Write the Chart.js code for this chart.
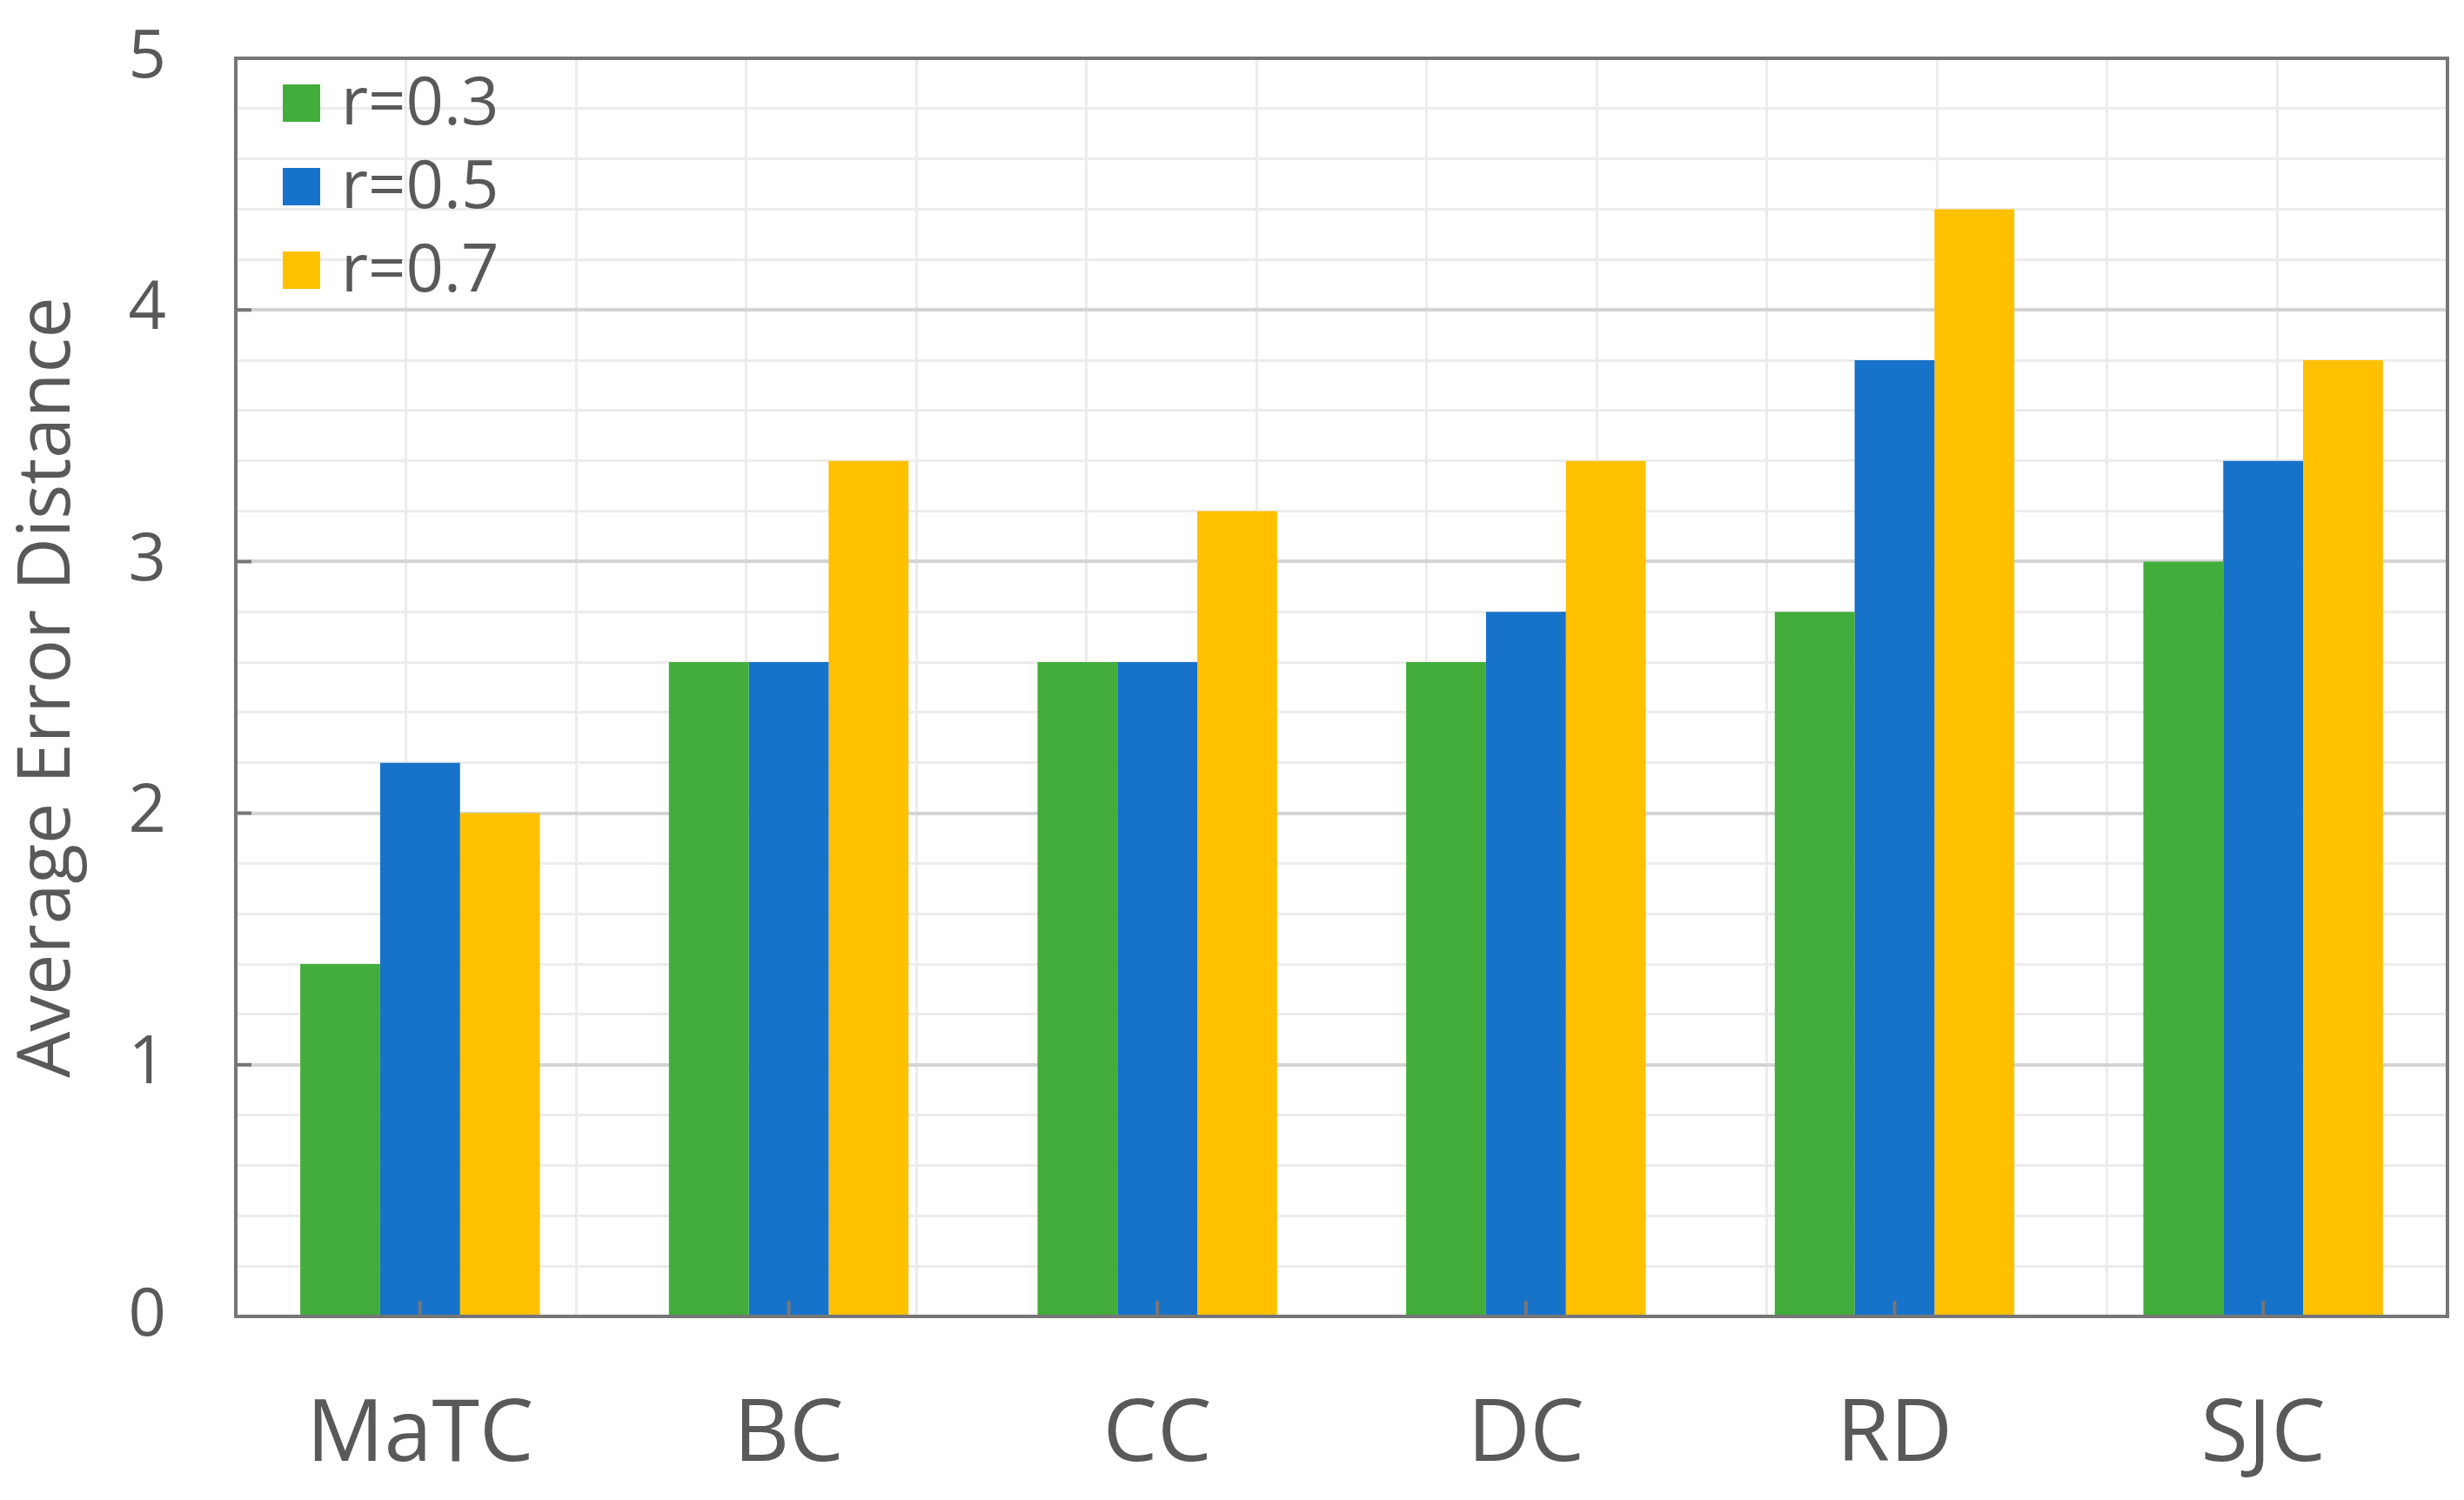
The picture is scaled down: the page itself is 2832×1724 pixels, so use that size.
<!DOCTYPE html>
<html>
<head>
<meta charset="utf-8">
<script src="https://cdn.jsdelivr.net/npm/chart.js@4.4.0/dist/chart.umd.min.js"></script>
<style>
  html, body { margin: 0; padding: 0; background: #ffffff; }
  #wrap { width: 2832px; height: 1724px; }
</style>
</head>
<body>
<div id="wrap"><canvas id="bar-chart" width="2832" height="1724"></canvas></div>
<script>
// data
const categories = ["MaTC", "BC", "CC", "DC", "RD", "SJC"];
const seriesNames = ["r=0.3", "r=0.5", "r=0.7"];
const r03 = [1.4, 2.6, 2.6, 2.6, 2.8, 3.0];
const r05 = [2.2, 2.6, 2.6, 2.8, 3.8, 3.4];
const r07 = [2.0, 3.4, 3.2, 3.4, 4.4, 3.8];
const seriesColors = ["#42AD3B", "#1772C9", "#FFC000"];
const yTickLabels = ["0", "1", "2", "3", "4", "5"];

const FONT = "'Open Sans', 'Noto Sans', sans-serif";
const TEXT = "#595959";

function isMajor(v) {
  return Math.abs(v - Math.round(v)) < 1e-6;
}

// plugin untuk kotak plot, tick kecil ke dalam, dan legend di dalam plot
const framePlugin = {
  id: "frame",
  afterDatasetsDraw(chart) {
    const { ctx, chartArea: a, scales } = chart;
    ctx.save();
    ctx.strokeStyle = "#767676";
    ctx.lineWidth = 4;
    ctx.beginPath();
    scales.y.ticks.forEach((t) => {
      if (isMajor(t.value)) {
        const y = scales.y.getPixelForValue(t.value);
        ctx.moveTo(a.left, y);
        ctx.lineTo(a.left + 18, y);
      }
    });
    categories.forEach((c, i) => {
      const x = scales.x.getPixelForValue(i);
      ctx.moveTo(x, a.bottom);
      ctx.lineTo(x, a.bottom - 18);
    });
    ctx.stroke();
    ctx.strokeRect(a.left, a.top, a.right - a.left, a.bottom - a.top);

    // legend
    ctx.font = "76px " + FONT;
    ctx.textBaseline = "middle";
    ctx.textAlign = "left";
    chart.data.datasets.forEach((ds, i) => {
      const cy = a.top + 52 + i * 96;
      ctx.fillStyle = ds.backgroundColor;
      ctx.fillRect(a.left + 54, cy - 22, 43, 43);
      ctx.fillStyle = TEXT;
      ctx.fillText(ds.label, a.left + 121, cy + 2);
    });
    ctx.restore();
  },
};

const dataset = [r03, r05, r07].map((vals, i) => ({
  label: seriesNames[i],
  data: vals,
  backgroundColor: seriesColors[i],
  borderWidth: 0,
  categoryPercentage: 0.65,
  barPercentage: 1.0,
}));

const ctx = document.getElementById("bar-chart").getContext("2d");
new Chart(ctx, {
  type: "bar",
  data: { labels: categories, datasets: dataset },
  options: {
    responsive: false,
    devicePixelRatio: 1,
    animation: false,
    layout: { padding: { top: 67, right: 19, left: 0, bottom: 0 } },
    plugins: {
      tooltip: { enabled: false },
      legend: { display: false },
    },
    scales: {
      x: {
        type: "category",
        offset: true,
        grid: { display: false },
        border: { display: false },
        ticks: {
          color: TEXT,
          padding: 70,
          font: { family: FONT, size: 99 },
        },
        afterFit(scale) {
          scale.height = 211;
        },
      },
      // sumbu bantu hanya untuk garis grid vertikal tiap setengah kategori
      xg: {
        type: "linear",
        position: "bottom",
        min: 0,
        max: categories.length,
        ticks: { display: false, stepSize: 0.5 },
        border: { display: false },
        grid: { color: "#ececec", lineWidth: 3, drawTicks: false },
      },
      y: {
        min: 0,
        max: 5,
        border: { display: false },
        ticks: {
          stepSize: 0.2,
          autoSkip: false,
          color: TEXT,
          padding: 80,
          font: { family: FONT, size: 76 },
          callback: (v) => (isMajor(v) ? yTickLabels[Math.round(v)] : ""),
        },
        grid: {
          drawTicks: false,
          color: (c) => (isMajor(c.tick.value) ? "#d4d4d4" : "#ececec"),
          lineWidth: (c) => (isMajor(c.tick.value) ? 4 : 3),
        },
        title: {
          display: true,
          text: "Average Error Distance",
          color: TEXT,
          font: { family: FONT, size: 84 },
          padding: { top: 6, bottom: 0 },
        },
        afterFit(scale) {
          scale.width = 271;
          scale.paddingTop = 40;
          scale.paddingBottom = 40;
        },
      },
    },
  },
  plugins: [framePlugin],
});
</script>
</body>
</html>
